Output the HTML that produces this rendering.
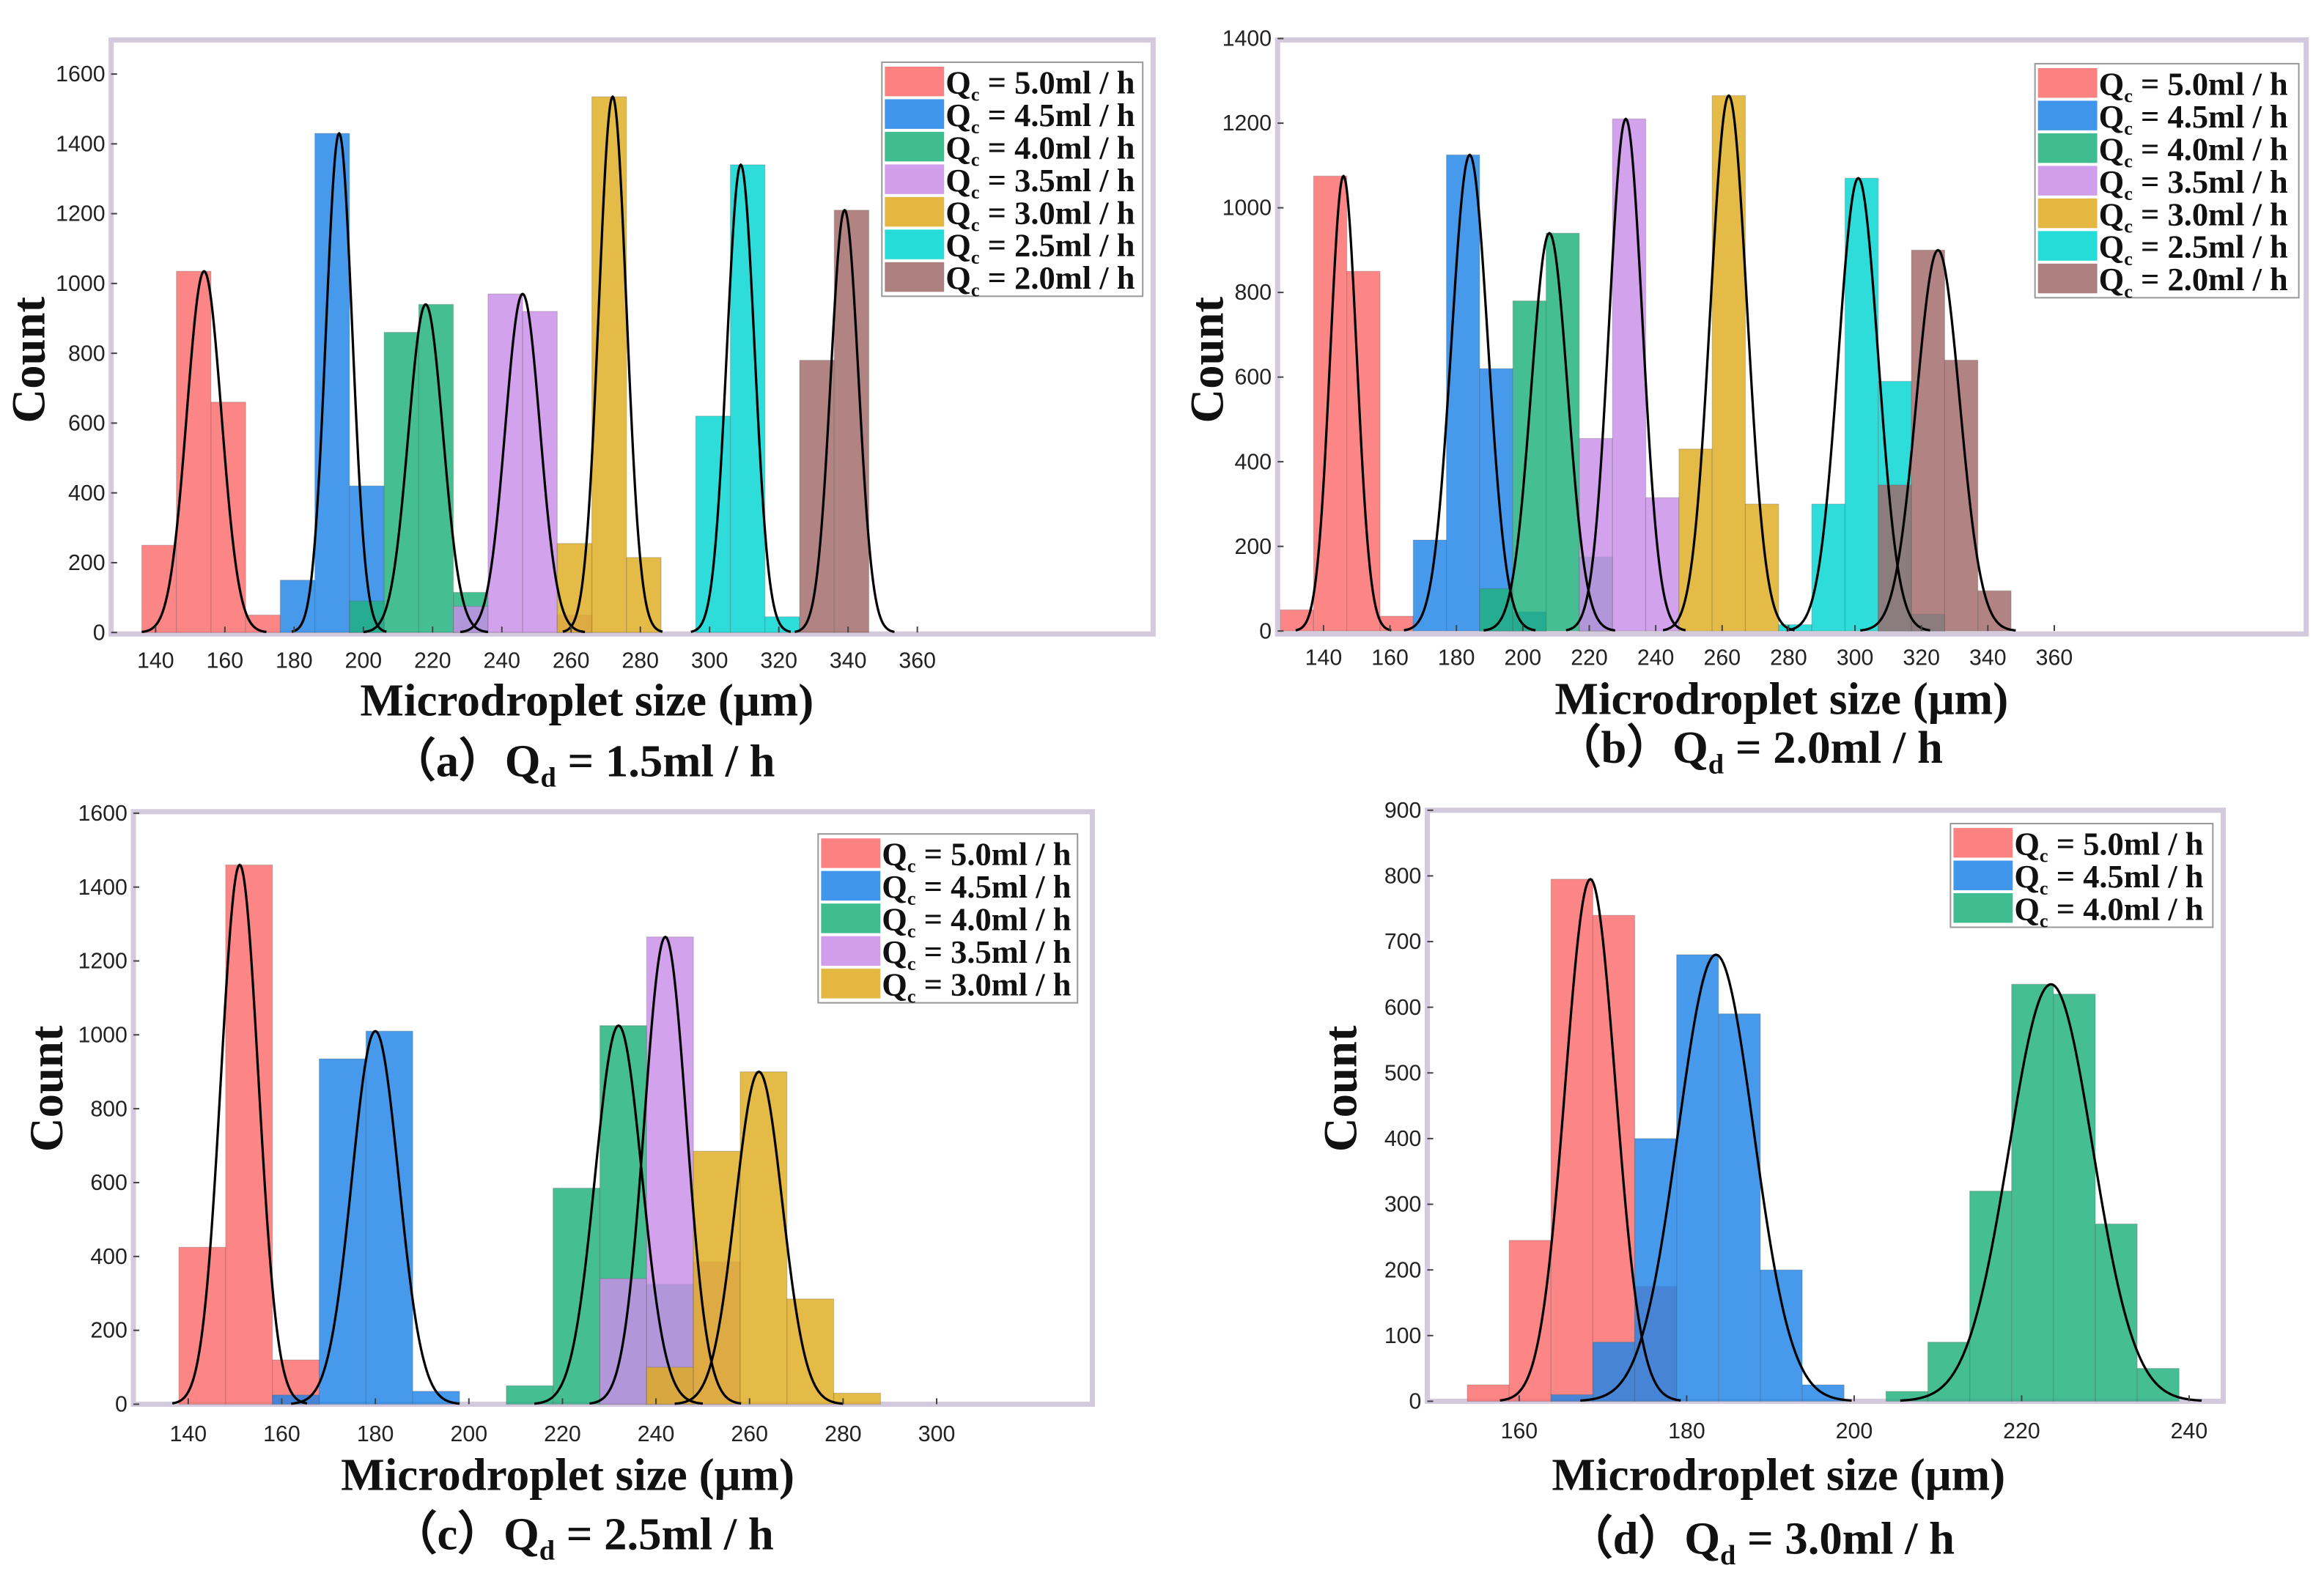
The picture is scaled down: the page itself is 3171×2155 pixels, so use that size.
<!DOCTYPE html>
<html><head><meta charset="utf-8"><style>
html,body{margin:0;padding:0;background:#fff}
svg{display:block}
.tk{font-family:"Liberation Sans",sans-serif;font-size:15px;fill:#222}
.tt{font-family:"Liberation Serif",serif;font-size:31px;font-weight:bold;fill:#111}
.ct{font-family:"Liberation Serif",serif;font-size:32px;font-weight:bold;fill:#111}
.lg{font-family:"Liberation Serif",serif;font-size:22px;font-weight:bold;fill:#111}
</style></head><body>
<svg id="fig" width="3171" height="2155" viewBox="0 0 1568 1066" preserveAspectRatio="none" xmlns="http://www.w3.org/2000/svg"></svg>
<script>
// ---- data ----
const seriesLabels = ["5.0","4.5","4.0","3.5","3.0","2.5","2.0"];
const seriesColors = ["#fb6b6b","#1f84e6","#1db07c","#c98de8","#dfac1e","#00d6d2","#a06868"];
// panel a (Qd=1.5)
const aBinStarts = [[136,146,156,166],[176,186,196],[196,206,216,226],[226,236,246,256],[256,266,276],[296,306,316],[326,336]];
const aCounts    = [[250,1035,660,50],[150,1430,420],[90,860,940,115],[75,970,920,50],[255,1535,215],[620,1340,45],[780,1210]];
const aMu    = [154,193,218,246,272,309,339];
const aPeak  = [1035,1430,940,970,1535,1340,1210];
const aSigma = [5,3.8,5,5,4,4,4];
// panel b (Qd=2.0)
const bBinStarts = [[127,137,147,157],[167,177,187,197],[187,197,207,217],[217,227,237],[247,257,267],[277,287,297,307,317],[307,317,327,337]];
const bCounts    = [[50,1075,850,35],[215,1125,620,45],[100,780,940,175],[455,1210,315],[430,1265,300],[15,300,1070,590,40],[345,900,640,95]];
const bMu    = [146,184,208,231,262,301,325];
const bPeak  = [1075,1125,940,1210,1265,1070,900];
const bSigma = [4,5.5,5.5,5,5.5,6,6.5];
// panel c (Qd=2.5)
const cBinStarts = [[138,148,158],[158,168,178,188],[208,218,228,238],[228,238,248],[238,248,258,268,278]];
const cCounts    = [[425,1460,120],[25,935,1010,35],[50,585,1025,325],[340,1265,385],[100,685,900,285,30]];
const cMu    = [151,180,232,242,262];
const cPeak  = [1460,1010,1025,1265,900];
const cSigma = [4,5,5,4.5,5];
// panel d (Qd=3.0)
const dBinStarts = [[153.8,158.8,163.8,168.8,173.8],[163.8,168.8,173.8,178.8,183.8,188.8,193.8],[203.8,208.8,213.8,218.8,223.8,228.8,233.8]];
const dCounts    = [[25,245,795,740,175],[10,90,400,680,590,200,25],[15,90,320,635,620,270,50]];
const dMu    = [168.5,183.5,223.5];
const dPeak  = [795,680,635];
const dSigma = [3,4.5,5];

const xTicksAB = [140,160,180,200,220,240,260,280,300,320,340,360];
const xTicksC  = [140,160,180,200,220,240,260,280,300];
const xTicksD  = [160,180,200,220,240];
const yTicksA  = [0,200,400,600,800,1000,1200,1400,1600];
const yTicksB  = [0,200,400,600,800,1000,1200,1400];
const yTicksD  = [0,100,200,300,400,500,600,700,800,900];

const NS="http://www.w3.org/2000/svg";
const svg=document.getElementById('fig');
function mk(tag,attrs,parent){const e=document.createElementNS(NS,tag);for(const k in attrs)e.setAttribute(k,attrs[k]);(parent||svg).appendChild(e);return e;}

function panel(cfg){
  const g=mk('g',{});
  
  
  const X=v=>cfg.x0+(v-cfg.v0)*cfg.k;
  const Y=c=>cfg.yb-c*cfg.ky;
  const fr=mk('rect',{x:cfg.fx,y:cfg.fy,width:cfg.fw,height:cfg.fh,fill:'#fff',stroke:'#d3cade','stroke-width':3.5},g);
  
  
  cfg.starts.forEach((arr,si)=>{
    arr.forEach((s,i)=>{
      const r=mk('rect',{x:X(s),y:Y(cfg.counts[si][i]),width:X(s+cfg.bw)-X(s),height:cfg.yb-Y(cfg.counts[si][i]),fill:seriesColors[si],'fill-opacity':0.82,stroke:'#555','stroke-opacity':0.25,'stroke-width':0.6},g);
      
      
    });
  });
  cfg.mu.forEach((m,si)=>{
    const s=cfg.sigma[si],p=cfg.peak[si];let d='';
    for(let t=-3.6;t<=3.6001;t+=0.05){const v=m+t*s;d+=(d?'L':'M')+X(v).toFixed(2)+','+Y(p*Math.exp(-t*t/2)).toFixed(2);}
    const pa=mk('path',{d:d,fill:'none',stroke:'#000','stroke-width':1.6},g);
    
    
  });
  cfg.xt.forEach(v=>{
    mk('line',{x1:X(v),x2:X(v),y1:cfg.yb,y2:cfg.yb-4,stroke:'#444','stroke-width':1},g);
    const t=mk('text',{x:X(v),y:cfg.xly,'text-anchor':'middle',class:'tk'},g);t.textContent=v;
    
    
  });
  cfg.yt.forEach(v=>{
    mk('line',{x1:cfg.fx,x2:cfg.fx+4,y1:Y(v),y2:Y(v),stroke:'#444','stroke-width':1},g);
    const t=mk('text',{x:cfg.fx-4,y:Y(v)+5,'text-anchor':'end',class:'tk'},g);t.textContent=v;
    
    
  });
  const xt=mk('text',{x:cfg.xtx,y:cfg.xty,'text-anchor':'middle',class:'tt',textLength:306,lengthAdjust:'spacingAndGlyphs'},g);xt.textContent='Microdroplet size (μm)';
  
  
  const yt=mk('text',{x:0,y:0,'text-anchor':'middle',class:'ct',transform:`translate(${cfg.ytx},${cfg.yty}) rotate(-90)`},g);yt.textContent='Count';
  
  
  const cp=mk('text',{x:cfg.cx,y:cfg.cy,'text-anchor':'middle',class:'tt'},g);
  
  
  cp.innerHTML='（'+cfg.id+'）Q<tspan font-size="19" dy="7">d</tspan><tspan dy="-7"> = '+cfg.qd+'ml / h</tspan>';
  const n=cfg.mu.length;
  const lg=mk('g',{},g);
  
  
  mk('rect',{x:cfg.lx,y:cfg.ly,width:cfg.lw,height:n*22+4,fill:'#fff',stroke:'#999','stroke-width':1},lg);
  for(let i=0;i<n;i++){
    const yy=cfg.ly+3+i*22;
    const sw=mk('rect',{x:cfg.lx+2,y:yy,width:40,height:20,fill:seriesColors[i],'fill-opacity':0.85},lg);
    
    
    const t=mk('text',{x:cfg.lx+43,y:yy+18,class:'lg'},lg);
    t.innerHTML='Q<tspan font-size="13" dy="5">c</tspan><tspan dy="-5"> = '+seriesLabels[i]+'ml / h</tspan>';
    
    
  }
}

panel({id:'a',qd:'1.5',starts:aBinStarts,counts:aCounts,mu:aMu,peak:aPeak,sigma:aSigma,bw:10,
  x0:105,v0:140,k:2.336,yb:427,ky:377/1600,fx:75,fy:27,fw:703,fh:401,xt:xTicksAB,yt:yTicksA,xly:451,
  xtx:396,xty:483,ytx:30,yty:243,cx:393,cy:524,lx:595,ly:42,lw:176});
panel({id:'b',qd:'2.0',starts:bBinStarts,counts:bCounts,mu:bMu,peak:bPeak,sigma:bSigma,bw:10,
  x0:893,v0:140,k:2.241,yb:426,ky:400/1400,fx:862,fy:27,fw:694,fh:401,xt:xTicksAB,yt:yTicksB,xly:449,
  xtx:1202,xty:482,ytx:825,yty:243,cx:1180,cy:515,lx:1373,ly:43,lw:178});
panel({id:'c',qd:'2.5',starts:cBinStarts,counts:cCounts,mu:cMu,peak:cPeak,sigma:cSigma,bw:10,
  x0:127,v0:140,k:3.156,yb:948,ky:399/1600,fx:90,fy:548,fw:647,fh:400,xt:xTicksC,yt:yTicksA,xly:973,
  xtx:383,xty:1006,ytx:42,yty:735,cx:393,cy:1046,lx:552,ly:563,lw:175});
panel({id:'d',qd:'3.0',starts:dBinStarts,counts:dCounts,mu:dMu,peak:dPeak,sigma:dSigma,bw:5,
  x0:1025,v0:160,k:5.65,yb:946,ky:399/900,fx:963,fy:547,fw:537,fh:399,xt:xTicksD,yt:yTicksD,xly:971,
  xtx:1200,xty:1006,ytx:915,yty:735,cx:1188,cy:1049,lx:1316,ly:556,lw:177});
</script>
</body></html>
